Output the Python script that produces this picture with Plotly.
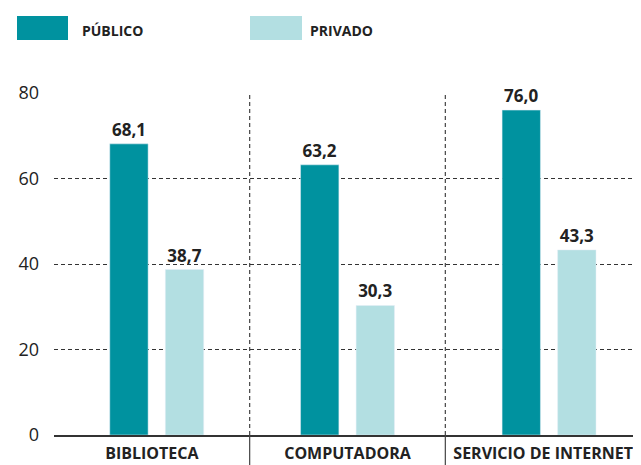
import plotly.graph_objects as go

categories = ["BIBLIOTECA", "COMPUTADORA", "SERVICIO DE INTERNET"]
publico = [68.1, 63.2, 76.0]
privado = [38.7, 30.3, 43.3]
series_names = ["PÚBLICO", "PRIVADO"]
y_ticks = [0, 20, 40, 60, 80]

c_pub = "#00929F"
c_priv = "#B3DFE2"
dark = "#222222"
font_family = "Open Sans, Noto Sans, DejaVu Sans, sans-serif"

# page has an 8px body margin; figure is placed at (8, 8)
OFF = 8
W, H = 641 - OFF, 465 - OFF
L, T, B, R = 54 - OFF, 93 - OFF, 30, 0
plot_w = W - L - R
plot_h = H - T - B

bw = 0.196
group_shift = [0.025, 0.0, 0.03]  # slight per-group placement as in the original layout
fig = go.Figure()
for vals, name, col, off in [(publico, series_names[0], c_pub, -0.142),
                             (privado, series_names[1], c_priv, 0.142)]:
    fig.add_trace(go.Bar(
        x=categories, y=vals, name=name, marker_color=col,
        width=bw, offset=[off - bw / 2 + s for s in group_shift],
        texttemplate="%{y:.1f}", textposition="outside", cliponaxis=False,
        textfont=dict(size=17, color=dark, family=font_family, weight="bold"),
        showlegend=False,
    ))

shapes = []
for xs in [0.5, 1.5]:
    shapes.append(dict(type="line", xref="x", yref="y", x0=xs, x1=xs, y0=0, y1=80,
                       line=dict(color="#444", width=1.2, dash="4px,3px"), layer="below"))
    shapes.append(dict(type="line", xref="x", yref="paper", x0=xs, x1=xs, y0=0, y1=-B / plot_h,
                       line=dict(color="#444", width=1.2)))

def px_to_paper_x(px):
    return (px - OFF - L) / plot_w

def px_to_paper_y(py):
    return (H - B - (py - OFF)) / plot_h

annotations = []
legend_items = [(series_names[0], c_pub, 17, 68, 80), (series_names[1], c_priv, 250, 302, 308)]
for name, col, x0, x1, tx in legend_items:
    shapes.append(dict(type="rect", xref="paper", yref="paper",
                       x0=px_to_paper_x(x0), x1=px_to_paper_x(x1),
                       y0=px_to_paper_y(40), y1=px_to_paper_y(16),
                       fillcolor=col, line=dict(width=0)))
    annotations.append(dict(xref="paper", yref="paper", x=px_to_paper_x(tx), y=px_to_paper_y(31),
                            xanchor="left", yanchor="middle", text=name, showarrow=False,
                            font=dict(size=14, color=dark, family=font_family, weight="bold")))

fig.update_layout(
    width=W, height=H,
    margin=dict(l=L, r=R, t=T, b=B, pad=0),
    paper_bgcolor="white", plot_bgcolor="white",
    separators=",.",
    barmode="overlay",
    shapes=shapes, annotations=annotations,
    font=dict(family=font_family, color=dark),
)
fig.update_xaxes(
    type="category", range=[-0.5, 2.5],
    showline=True, linecolor="#333", linewidth=1.5,
    showgrid=False, ticks="",
    tickfont=dict(size=16, color=dark, family=font_family, weight="bold"),
    ticklabelstandoff=3,
)
fig.update_yaxes(
    range=[0, 80], tickvals=y_ticks,
    showgrid=True, gridcolor="#333", gridwidth=1.2, griddash="4px,3px",
    zeroline=False, showline=False, ticks="",
    tickfont=dict(size=18, color=dark, family=font_family),
    ticklabelstandoff=14,
)

fig.write_html("out.html")
